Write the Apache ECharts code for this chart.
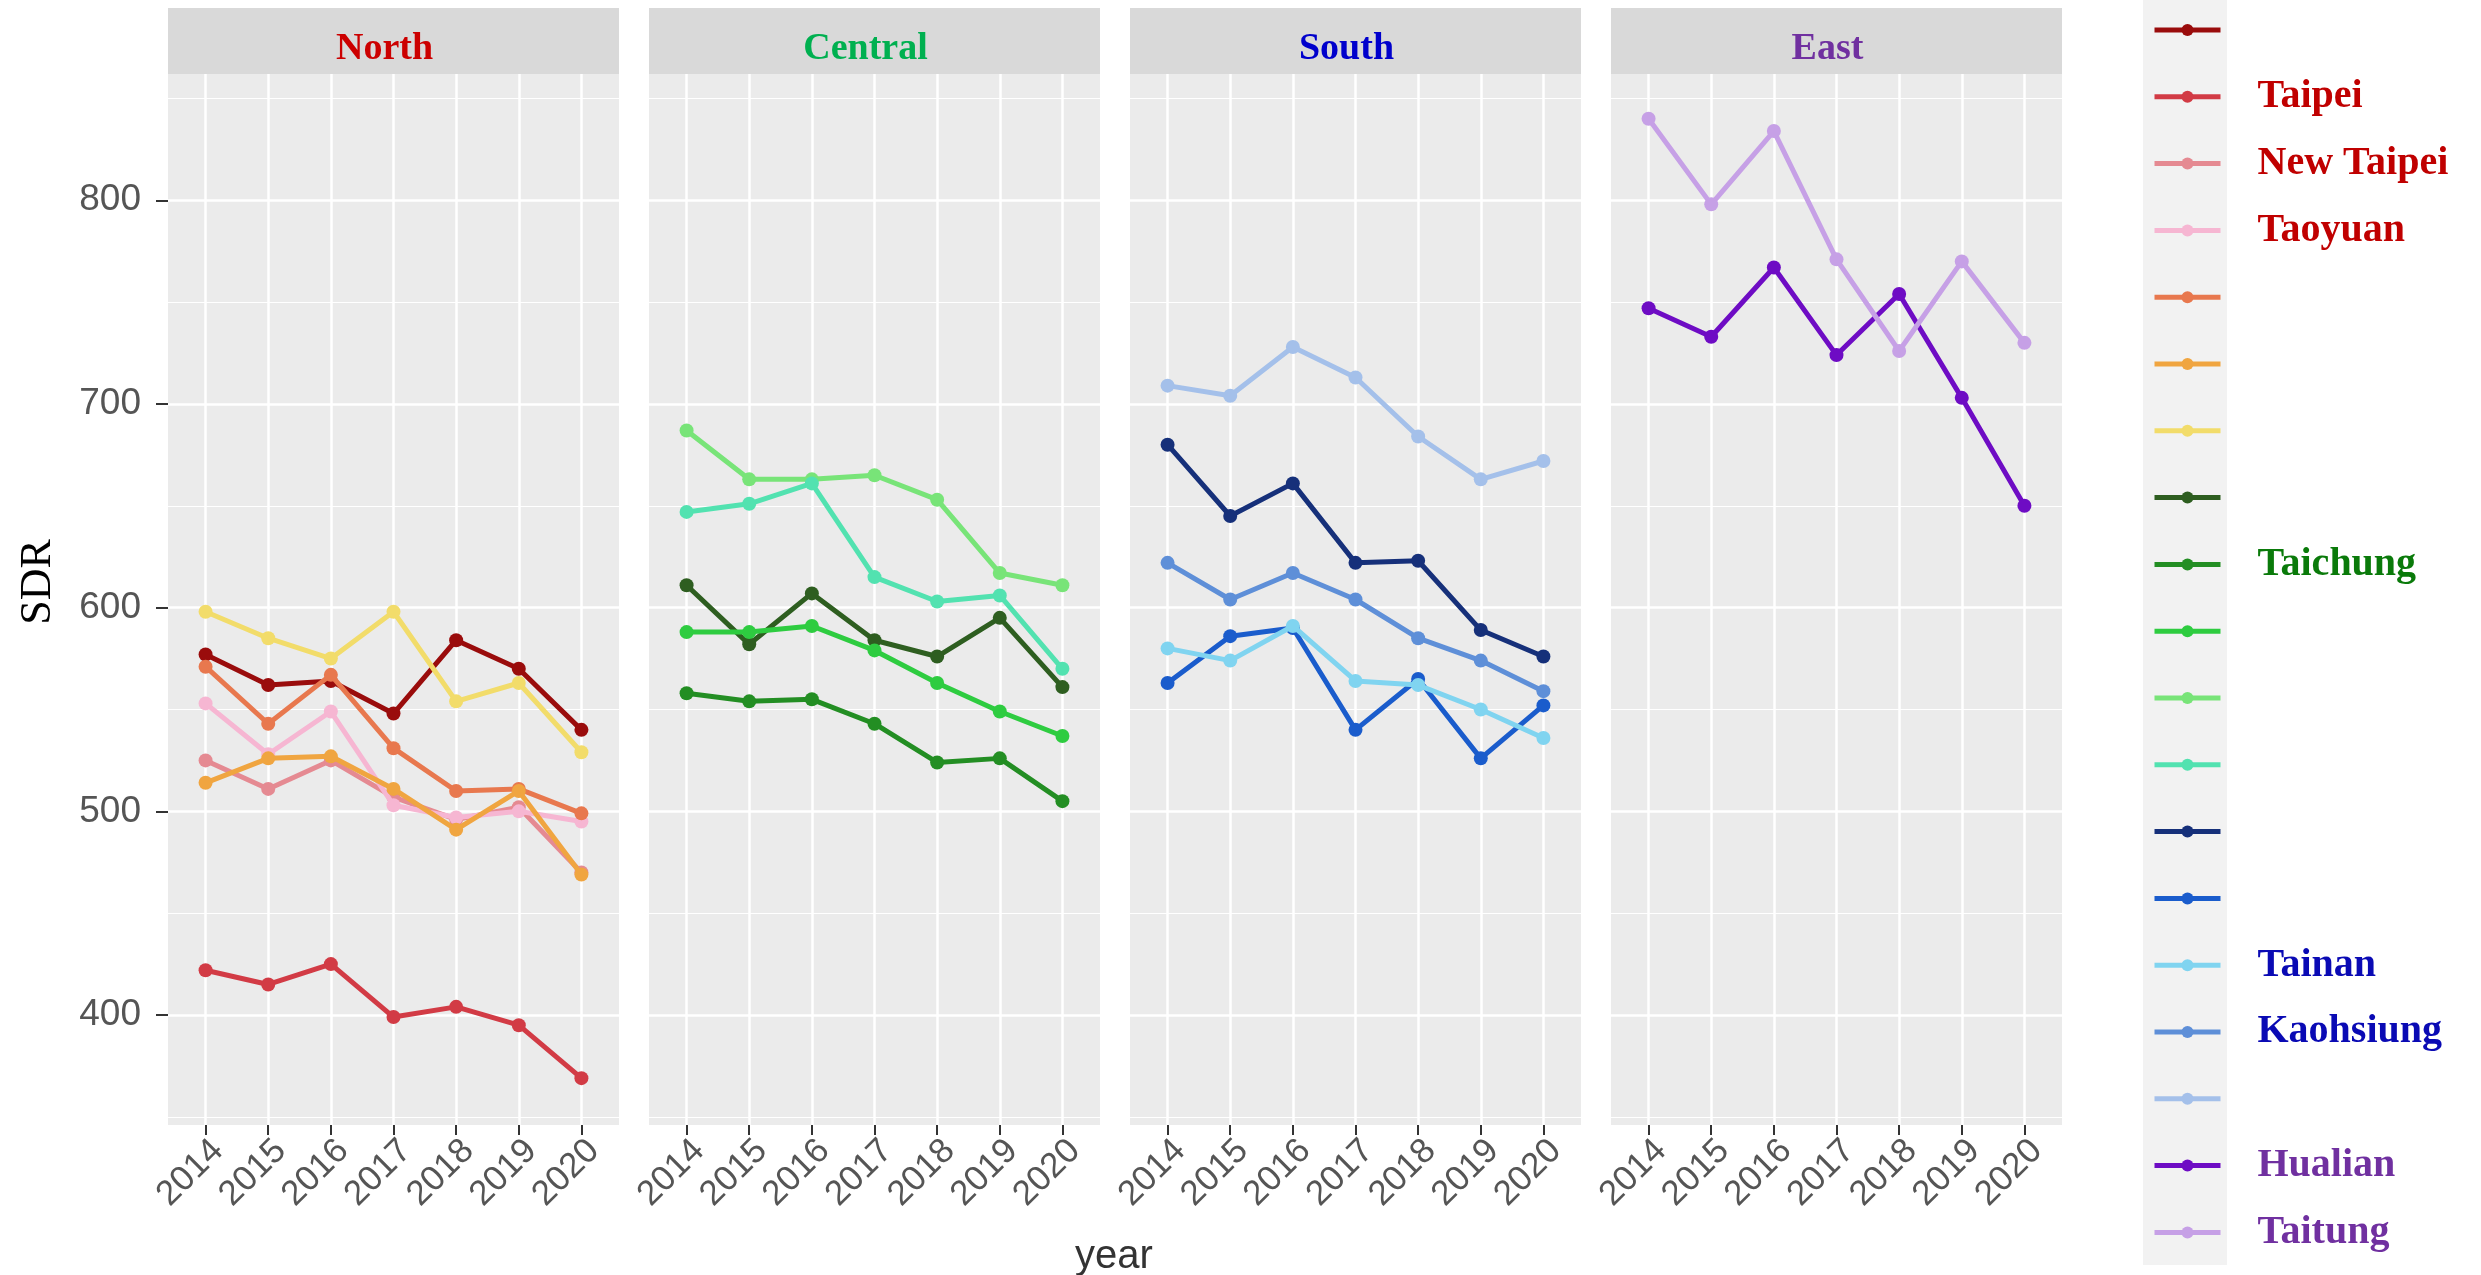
<!DOCTYPE html>
<html>
<head>
<meta charset="utf-8">
<script src="https://cdn.jsdelivr.net/npm/echarts@6/dist/echarts.min.js"></script>
<style>html,body{margin:0;padding:0;background:#fff;}#c{width:2481px;height:1275px;}</style>
</head>
<body>
<div id="c"></div>
<script>
// ---- data ----
const years = [2014, 2015, 2016, 2017, 2018, 2019, 2020];
const yTicks = [400, 500, 600, 700, 800];
const yMinor = [350, 450, 550, 650, 750, 850];
const regions = ['North', 'Central', 'South', 'East'];

// North
const n1 = [577, 562, 564, 548, 584, 570, 540];
const taipei = [422, 415, 425, 399, 404, 395, 369];
const newTaipei = [525, 511, 525, 507, 496, 502, 470];
const taoyuan = [553, 528, 549, 503, 497, 500, 495];
const n5 = [571, 543, 567, 531, 510, 511, 499];
const n6 = [514, 526, 527, 511, 491, 510, 469];
const n7 = [598, 585, 575, 598, 554, 563, 529];
// Central
const c1 = [611, 582, 607, 584, 576, 595, 561];
const taichung = [558, 554, 555, 543, 524, 526, 505];
const c3 = [588, 588, 591, 579, 563, 549, 537];
const c4 = [687, 663, 663, 665, 653, 617, 611];
const c5 = [647, 651, 661, 615, 603, 606, 570];
// South
const s1 = [680, 645, 661, 622, 623, 589, 576];
const s2 = [563, 586, 590, 540, 565, 526, 552];
const tainan = [580, 574, 591, 564, 562, 550, 536];
const kaohsiung = [622, 604, 617, 604, 585, 574, 559];
const s5 = [709, 704, 728, 713, 684, 663, 672];
// East
const hualian = [747, 733, 767, 724, 754, 703, 650];
const taitung = [840, 798, 834, 771, 726, 770, 730];

const seriesIds = ['N1','Taipei','New Taipei','Taoyuan','N5','N6','N7',
  'C1','Taichung','C3','C4','C5',
  'S1','S2','Tainan','Kaohsiung','S5',
  'Hualian','Taitung'];
const legendLabels = ['', 'Taipei', 'New Taipei', 'Taoyuan', '', '', '',
  '', 'Taichung', '', '', '',
  '', '', 'Tainan', 'Kaohsiung', '',
  'Hualian', 'Taitung'];
const seriesValues = [n1, taipei, newTaipei, taoyuan, n5, n6, n7,
  c1, taichung, c3, c4, c5,
  s1, s2, tainan, kaohsiung, s5,
  hualian, taitung];
const seriesPanel = [0,0,0,0,0,0,0, 1,1,1,1,1, 2,2,2,2,2, 3,3];
const seriesColors = ['#9A0C0C','#D23B45','#E58A92','#F6B6D2','#E8784E','#F0A540','#F2DC6A',
  '#2E5E20','#238E23','#2ECC40','#78E478','#52E2B0',
  '#16307A','#1A5CCC','#80D4F0','#5E8FD8','#A4C0EA',
  '#6E0CC4','#C6A0E6'];
const regionColors = ['#CC0000', '#00B050', '#0000CC', '#7030A0'];
const labelColors = ['#C00000', '#0A7A0A', '#0A0AB4', '#7030A0'];

// ---- layout ----
const panelLeft0 = 168, panelStep = 481, panelW = 451;
const panelTop = 74, panelBottom = 1125;
const stripTop = 8;

const grids = [], xAxes = [], yAxes = [], titles = [], graphics = [];
regions.forEach((r, i) => {
  const left = panelLeft0 + panelStep * i;
  grids.push({left: left, top: panelTop, width: panelW, height: panelBottom - panelTop,
    show: true, backgroundColor: '#EBEBEB', borderWidth: 0});
  xAxes.push({type: 'value', gridIndex: i, min: 2013.4, max: 2020.6,
    axisLine: {show: false},
    axisTick: {show: true, length: 10, lineStyle: {color: '#333', width: 2}, customValues: years},
    axisLabel: {show: true, customValues: years, rotate: 45, fontSize: 35, color: '#555',
      fontFamily: 'Liberation Sans', margin: 8, verticalAlign: 'top', formatter: v => String(v)},
    splitLine: {show: true, lineStyle: {color: '#FFFFFF', width: 2.5}}
  });
  yAxes.push({type: 'value', gridIndex: i, min: 346, max: 862,
    axisLine: {show: false},
    axisTick: {show: i === 0, length: 12, lineStyle: {color: '#333', width: 2}, customValues: yTicks},
    axisLabel: {show: i === 0, customValues: yTicks, fontSize: 37, color: '#555',
      fontFamily: 'Liberation Sans', margin: 27},
    splitLine: {show: true, lineStyle: {color: '#FFFFFF', width: 2.5}}
  });
  yAxes.push({type: 'value', gridIndex: i, min: 346, max: 862,
    axisLine: {show: false},
    axisTick: {show: false, customValues: yMinor},
    axisLabel: {show: false, customValues: yMinor},
    splitLine: {show: true, lineStyle: {color: '#FFFFFF', width: 1.2}}
  });
  graphics.push({type: 'rect', left: left, top: stripTop, z: -1,
    shape: {width: panelW, height: panelTop - stripTop}, style: {fill: '#D9D9D9'}});
  titles.push({text: r, left: left + panelW / 2 - 9, top: 49, textAlign: 'center', textVerticalAlign: 'middle',
    padding: 0,
    textStyle: {fontFamily: 'Liberation Serif', fontWeight: 'bold', fontSize: 38, color: regionColors[i]}});
});

const series = seriesIds.map((id, k) => ({
  name: id, type: 'line',
  xAxisIndex: seriesPanel[k], yAxisIndex: seriesPanel[k] * 2,
  data: years.map((y, j) => [y, seriesValues[k][j]]),
  symbol: 'circle', symbolSize: 14,
  lineStyle: {width: 5, color: seriesColors[k]},
  itemStyle: {color: seriesColors[k]},
  z: 2 + k * 0.01, silent: true, animation: false
}));

// legend key column background
graphics.push({type: 'rect', left: 2143, top: 0, z: -1,
  shape: {width: 84, height: 1265}, style: {fill: '#F2F2F2'}});
// axis titles
graphics.push({type: 'text', rotation: Math.PI / 2,
  style: {text: 'SDR', x: 0, y: 0, fontFamily: 'Liberation Serif', fontSize: 44, fill: '#000',
    align: 'center', verticalAlign: 'middle'}, x: 38, y: 582});
graphics.push({type: 'text', style: {text: 'year', x: 0, y: 0, fontFamily: 'Liberation Sans', fontSize: 40, fill: '#333',
  align: 'center', verticalAlign: 'middle'}, x: 1114, y: 1257});

const legendData = seriesIds.map((id, k) => ({
  name: id,
  textStyle: {color: labelColors[seriesPanel[k]]}
}));

const chart = echarts.init(document.getElementById('c'), null, {renderer: 'canvas'});
chart.setOption({
  animation: false,
  backgroundColor: '#FFFFFF',
  title: titles,
  grid: grids,
  xAxis: xAxes,
  yAxis: yAxes,
  legend: {
    orient: 'vertical', left: 2152, top: 10, padding: 0,
    itemWidth: 66, itemHeight: 15, itemGap: 26.8,
    selectedMode: false,
    lineStyle: {width: 5},
    data: legendData,
    formatter: name => { const t = legendLabels[seriesIds.indexOf(name)]; return t ? t : ' '; },
    textStyle: {fontFamily: 'Liberation Serif', fontWeight: 'bold', fontSize: 40, lineHeight: 40,
      padding: [0, 0, 0, 32]}
  },
  graphic: graphics,
  series: series
});
</script>
</body>
</html>
